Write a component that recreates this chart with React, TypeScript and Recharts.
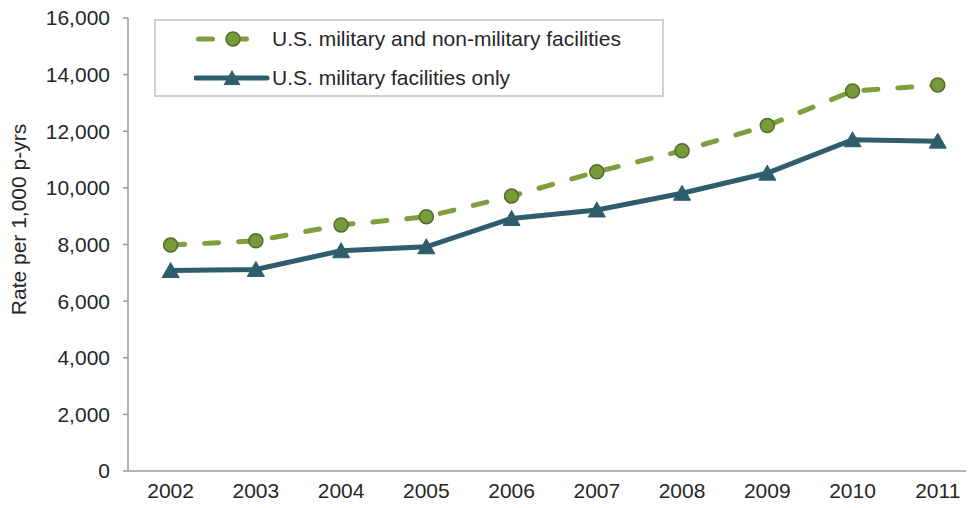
import React from 'react';
import { LineChart, Line, XAxis, YAxis, Legend } from 'recharts';

const years = [2002, 2003, 2004, 2005, 2006, 2007, 2008, 2009, 2010, 2011];
const allFacilities = [7980, 8130, 8690, 8980, 9710, 10570, 11310, 12200, 13420, 13630];
const militaryOnly = [7080, 7120, 7780, 7920, 8920, 9220, 9810, 10520, 11700, 11650];
const yTicks = [0, 2000, 4000, 6000, 8000, 10000, 12000, 14000, 16000];
const bandEdges = [2001.5, 2002.5, 2003.5, 2004.5, 2005.5, 2006.5, 2007.5, 2008.5, 2009.5, 2010.5, 2011.5];
const seriesNames = ['U.S. military and non-military facilities', 'U.S. military facilities only'];

const data = years.map((y, i) => ({ year: y, all: allFacilities[i], mil: militaryOnly[i] }));

const GREEN = '#7f9f3f';
const GREEN_DOT = '#779a3a';
const GREEN_EDGE = '#55692b';
const BLUE = '#2e5d6b';
const AXIS = '#9a9a9a';
const TEXT = '#262626';
const FONT = '"Liberation Sans", Arial, sans-serif';

const Triangle = (props: any) => {
  const { cx, cy, index } = props;
  if (cx == null || cy == null) return null;
  return (
    <polygon
      key={`tri-${index}`}
      points={`${cx},${cy - 8} ${cx - 8.5},${cy + 7} ${cx + 8.5},${cy + 7}`}
      fill={BLUE}
      stroke={BLUE}
      strokeWidth={1}
    />
  );
};

const renderLegend = (props: any) => {
  const { payload } = props;
  return (
    <div
      style={{
        position: 'relative',
        width: 510,
        height: 78,
        boxSizing: 'border-box',
        border: '2px solid #cfcfcf',
        background: '#fff',
        fontFamily: FONT,
      }}
    >
      {(payload || []).map((entry: any, i: number) => {
        const isAll = entry.dataKey === 'all';
        return (
          <div
            key={entry.dataKey}
            style={{
              position: 'absolute',
              left: 0,
              top: 4 + i * 38.7 - 2,
              height: 32,
              width: '100%',
            }}
          >
            <svg width={80} height={32} style={{ position: 'absolute', left: 38, top: 0 }}>
              {isAll ? (
                <g>
                  <line x1={4.5} y1={16} x2={70.5} y2={16} stroke={GREEN} strokeWidth={5} strokeDasharray="14 20" strokeLinecap="round" />
                  <circle cx={39} cy={16} r={7} fill={GREEN_DOT} stroke={GREEN_EDGE} strokeWidth={1.5} />
                </g>
              ) : (
                <g>
                  <line x1={2} y1={16} x2={73} y2={16} stroke={BLUE} strokeWidth={5} strokeLinecap="round" />
                  <polygon points={`38,${16 - 8} 29.5,${16 + 7} 46.5,${16 + 7}`} fill={BLUE} />
                </g>
              )}
            </svg>
            <span
              style={{
                position: 'absolute',
                left: 116,
                top: 0,
                lineHeight: '32px',
                fontSize: 21,
                color: TEXT,
                whiteSpace: 'nowrap',
              }}
            >
              {entry.value}
            </span>
          </div>
        );
      })}
    </div>
  );
};

const YLabel = (props: any) => {
  const vb = props.viewBox || {};
  const x = (vb.x || 0) + 18;
  const y = (vb.y || 0) + (vb.height || 0) / 2 - 25;
  return (
    <text
      x={x}
      y={y}
      transform={`rotate(-90, ${x}, ${y})`}
      textAnchor="middle"
      dominantBaseline="central"
      fill={TEXT}
      fontSize={21}
      fontFamily={FONT}
    >
      Rate per 1,000 p-yrs
    </text>
  );
};

export default function App() {
  return (
    <div style={{ margin: '-8px 0 0 -8px', width: 974, height: 508, overflow: 'hidden', fontFamily: FONT, position: 'relative' }}>
      <LineChart
        width={990}
        height={508}
        data={data}
        margin={{ top: 18, right: 9.6, bottom: 0, left: 0 }}
        style={{ fontFamily: FONT }}
      >
        <XAxis
          xAxisId="edges"
          dataKey="year"
          type="number"
          domain={[2001.5, 2011.5]}
          ticks={bandEdges}
          tick={false}
          height={1}
          tickSize={6}
          stroke={AXIS}
          strokeWidth={1.5}
          allowDataOverflow
        />
        <XAxis
          xAxisId="labels"
          dataKey="year"
          type="number"
          domain={[2001.5, 2011.5]}
          ticks={years}
          height={36}
          axisLine={false}
          tickLine={false}
          tickSize={5}
          tickMargin={6}
          tick={{ fill: TEXT, fontSize: 21, fontFamily: FONT }}
          interval={0}
          allowDataOverflow
        />
        <YAxis
          width={128}
          domain={[0, 16000]}
          ticks={yTicks}
          tickSize={5}
          tickMargin={13}
          stroke={AXIS}
          strokeWidth={1.5}
          tick={{ fill: TEXT, fontSize: 21, fontFamily: FONT }}
          tickFormatter={(v: number) => v.toLocaleString('en-US')}
          interval={0}
          label={<YLabel />}
        />
        <Legend
          layout="vertical"
          align="center"
          verticalAlign="middle"
          content={renderLegend}
          wrapperStyle={{ left: 154, top: 19, width: 510, height: 78 }}
        />
        <Line
          xAxisId="labels"
          dataKey="all"
          name={seriesNames[0]}
          stroke={GREEN}
          strokeWidth={5}
          strokeDasharray="14 20"
          strokeLinecap="round"
          dot={{ r: 7, fill: GREEN_DOT, stroke: GREEN_EDGE, strokeWidth: 1.5, strokeDasharray: '0' }}
          activeDot={false}
          isAnimationActive={false}
        />
        <Line
          xAxisId="labels"
          dataKey="mil"
          name={seriesNames[1]}
          stroke={BLUE}
          strokeWidth={5}
          dot={<Triangle />}
          activeDot={false}
          isAnimationActive={false}
        />
      </LineChart>
    </div>
  );
}
